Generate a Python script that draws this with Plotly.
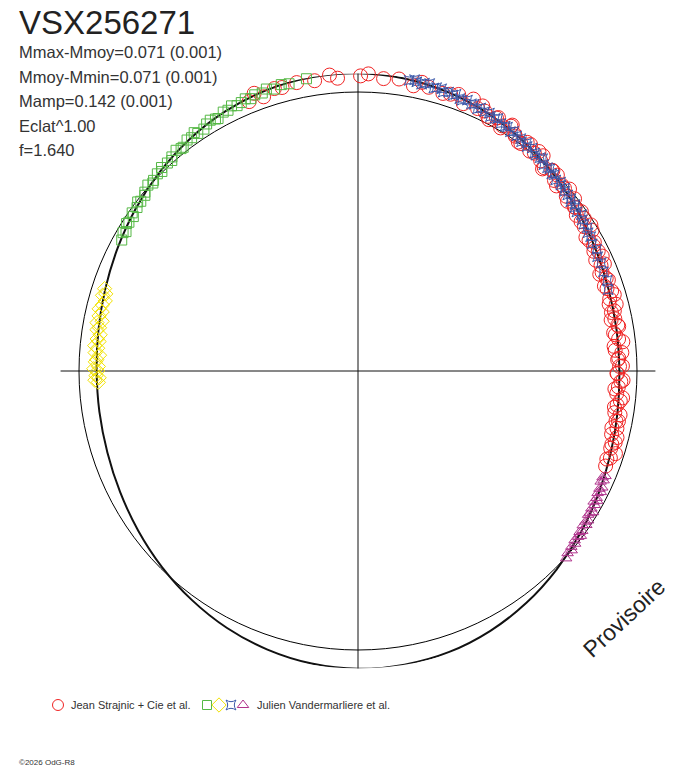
import numpy as np
import plotly.graph_objects as go

# phase angle (deg, 0 = top, clockwise) and magnitude offset from the mean (mag)
fit_ang = [0, 9, 18, 27, 36, 45, 54, 63, 72, 81, 90, 99, 108, 117, 126, 135, 144, 153, 162, 171,
           180, 189, 198, 207, 216, 225, 234, 243, 252, 261, 270, 279, 288, 297, 306, 315, 324, 333,
           342, 351, 360]
fit_dm = [-0.071, -0.065, -0.053, -0.036, -0.015, 0.007, 0.029, 0.048, 0.062, 0.069, 0.071, 0.065,
          0.053, 0.036, 0.015, -0.007, -0.029, -0.048, -0.062, -0.069, -0.071, -0.065, -0.053,
          -0.036, -0.015, 0.007, 0.029, 0.048, 0.062, 0.069, 0.071, 0.065, 0.053, 0.036, 0.015,
          -0.007, -0.029, -0.048, -0.062, -0.069, -0.071]

strajnic_ang = [-22, -20.5, -19, -18, -16.5, -15, -13.5, -12, -10, -8.5, -7, -5.5, -4, -2.5, -1,
                0.5, 2, 3.5, 5, 6.5, 8, 9.5, 11, 12.5, 14, 15.5, 17, 18.5, 20, 21.5, 23, 24.5, 26,
                27.5, 29, 30.5, 32, 33.5, 35, 36.5, 38, 39.5, 41, 42.5, 44, 45.5, 47, 48.5, 50,
                51.5, 53, 54.5, 56, 57.5, 59, 60.5, 62, 63.5, 65, 66.5, 68, 69.5, 71, 72.5, 74,
                75.5, 77, 78.5, 80, 81.5, 83, 84.5, 86, 87.5, 89, 90.5, 92, 93.5, 95, 96.5, 98,
                99.5, 101, 102.5, 104, 105.5, 107, 109, 111,
                25.2, 27, 28.7, 30.4, 32.1, 33.8, 35.6, 37.3, 39, 40.7, 42.4, 44.2, 45.9, 47.6,
                49.3, 51, 52.8, 54.5, 56.2, 57.9, 59.6, 61.4, 63.1, 64.8, 66.5, 68.2, 70, 71.7,
                73.4, 75.1, 76.8, 78.6, 80.3, 82, 83.7, 85.4, 87.2, 88.9, 90.6, 92.3, 94, 95.8,
                97.5, 99.2, 100.9, 102.6, 104.4, 106.1, 107.8, 109.5]
strajnic_dm = [-0.044, -0.066, -0.042, -0.076, -0.059, -0.055, -0.085, -0.060, -0.072, -0.055,
               -0.081, -0.069, -0.055, -0.077, -0.085, -0.061, -0.069, -0.086, -0.055, -0.071,
               -0.060, -0.076, -0.044, -0.063, -0.051, -0.073, -0.043, -0.049, -0.058, -0.032,
               -0.062, -0.036, -0.039, -0.017, -0.041, -0.021, -0.037, -0.019, -0.002, -0.021,
               0.000, -0.021, 0.002, 0.013, 0.000, -0.002, 0.030, 0.013, 0.028, 0.009,
               0.028, 0.043, 0.024, 0.042, 0.023, 0.054, 0.049, 0.042, 0.067, 0.041,
               0.063, 0.056, 0.074, 0.052, 0.069, 0.049, 0.076, 0.068, 0.061, 0.083,
               0.066, 0.088, 0.058, 0.077, 0.070, 0.081, 0.055, 0.073, 0.078, 0.060,
               0.081, 0.053, 0.065, 0.055, 0.071, 0.048, 0.059, 0.048, 0.055,
               -0.053, -0.026, -0.036, -0.011, -0.043, -0.014, -0.003, -0.022, -0.005, -0.019,
               0.021, -0.002, 0.021, 0.012, 0.000, 0.037, 0.030, 0.018, 0.042, 0.016,
               0.059, 0.039, 0.058, 0.036, 0.056, 0.075, 0.050, 0.067, 0.046, 0.077,
               0.063, 0.084, 0.058, 0.077, 0.050, 0.085, 0.072, 0.058, 0.079, 0.064,
               0.087, 0.052, 0.071, 0.076, 0.055, 0.076, 0.046, 0.059, 0.034, 0.060]

green_ang = [299, 300.5, 301, 302.5, 303, 304.5, 305, 306.5, 307.5, 308, 309.5, 310, 311.5, 312.5,
             313, 314.5, 315.5, 316, 317.5, 318.5, 319, 320.5, 321.5, 322, 323.5, 324.5, 325.5,
             326, 327.5, 328.5, 329.5, 330.5, 331, 332.5, 333.5, 334.5, 335.5, 336.5, 337.5,
             338.5, 339.5, 341, 342, 343.5, 345, 346.5, 348, 350, 352]
green_dm = [0.035, 0.025, 0.033, 0.018, 0.023, 0.025, 0.013, 0.016, 0.005, 0.013, 0.011, 0.003,
            -0.006, 0.003, -0.002, -0.009, -0.003, -0.015, -0.012, -0.008, -0.018, -0.027, -0.020,
            -0.019, -0.032, -0.029, -0.039, -0.029, -0.030, -0.041, -0.046, -0.040, -0.037,
            -0.049, -0.047, -0.056, -0.048, -0.052, -0.059, -0.052, -0.060, -0.057, -0.066,
            -0.057, -0.066, -0.062, -0.070, -0.067, -0.074]

yellow_ang = [267.5, 268, 268.5, 269, 270, 270.5, 271, 272, 272.5, 273.5, 274, 275, 275.5, 276.5,
              277, 278, 279, 279.5, 280.5, 281, 282, 283, 283.5, 284.5, 285.5, 286.5, 287, 288]
yellow_dm = [0.077, 0.063, 0.081, 0.068, 0.075, 0.059, 0.078, 0.065, 0.071, 0.081, 0.062, 0.071,
             0.058, 0.074, 0.065, 0.075, 0.059, 0.068, 0.054, 0.074, 0.057, 0.066, 0.051, 0.060,
             0.067, 0.050, 0.061, 0.050]

blue_ang = [10, 11, 11.5, 12.5, 13, 14, 15, 15.5, 16.5, 17, 18, 19, 19.5, 20.5, 21, 22, 23, 23.5,
            24.5, 25, 26, 27, 27.5, 28.5, 29, 30, 31, 31.5, 32.5, 33, 34, 35, 35.5, 36.5, 37, 38,
            39, 39.5, 40.5, 41, 42, 43, 43.5, 44.5, 45, 46, 47, 47.5, 48.5, 49, 50, 51, 51.5,
            52.5, 53, 54, 55, 56, 57, 58, 59, 60, 61.5, 63, 64.5, 66, 68, 70, 72]
blue_dm = [-0.061, -0.067, -0.061, -0.056, -0.062, -0.065, -0.053, -0.057, -0.058, -0.048,
           -0.054, -0.049, -0.055, -0.045, -0.042, -0.050, -0.043, -0.045, -0.035, -0.043,
           -0.036, -0.040, -0.030, -0.032, -0.037, -0.026, -0.026, -0.027, -0.018, -0.026,
           -0.018, -0.018, -0.010, -0.017, -0.008, -0.015, -0.006, -0.003, -0.006, -0.009,
           0.005, 0.004, 0.001, 0.010, 0.006, 0.016, 0.008, 0.015, 0.011, 0.020,
           0.020, 0.020, 0.028, 0.022, 0.029, 0.033, 0.025, 0.034, 0.038, 0.034,
           0.042, 0.041, 0.050, 0.044, 0.054, 0.051, 0.057, 0.055, 0.064]

purple_ang = [113, 113.5, 114, 114.5, 115.5, 116, 116.5, 117, 118, 118.5, 119, 119.5, 120.5, 121,
              121.5, 122, 123, 123.5, 124, 124.5, 125.5, 126, 126.5, 127, 128, 128.5, 129.5, 130,
              131, 132]
purple_dm = [0.040, 0.049, 0.040, 0.049, 0.033, 0.041, 0.030, 0.040, 0.034, 0.027, 0.038, 0.027,
             0.032, 0.019, 0.027, 0.030, 0.018, 0.024, 0.014, 0.025, 0.014, 0.020, 0.007, 0.013,
             0.016, 0.006, 0.010, 0.000, 0.005, -0.004]

ECLAT_POWER = 1.00
R_MAX = 1.066
FONT = "Liberation Sans, Arial, sans-serif"
W, H = 688, 768
CX, CY, RPX = 358, 371, 279


def radius(dm):
    # brightness relative to the mean, raised to the "Eclat" power
    return (10 ** (-0.4 * np.asarray(dm))) ** ECLAT_POWER


fig = go.Figure()

fig.add_trace(go.Scatterpolar(
    r=radius(fit_dm), theta=fit_ang, mode="lines",
    line=dict(color="#111111", width=2, shape="spline"),
))

series = [
    (strajnic_ang, strajnic_dm, "circle-open", 14, "#f02424"),
    (green_ang, green_dm, "square-open", 10, "#55b845"),
    (yellow_ang, yellow_dm, "diamond-open", 11, "#f2e200"),
    (blue_ang, blue_dm, "star-square-open", 9, "#3a58aa"),
    (purple_ang, purple_dm, "triangle-up-open", 10, "#b0338c"),
]
for ang, dm, sym, size, col in series:
    fig.add_trace(go.Scatterpolar(
        r=radius(dm), theta=ang, mode="markers",
        marker=dict(symbol=sym, size=size, color=col, line=dict(width=1, color=col)),
    ))

# legend swatches on a pixel overlay
legend_items = [
    (58, "circle-open", 11, "#f02424"),
    (207, "square-open", 9, "#55b845"),
    (219, "diamond-open", 11, "#f2e200"),
    (231, "star-square-open", 9, "#3a58aa"),
    (243, "triangle-up-open", 10, "#b0338c"),
]
for lx, sym, size, col in legend_items:
    fig.add_trace(go.Scatter(
        x=[lx], y=[705], mode="markers", xaxis="x", yaxis="y", cliponaxis=False,
        marker=dict(symbol=sym, size=size, color=col, line=dict(width=1, color=col)),
    ))

half = R_MAX * RPX
fig.update_layout(
    width=W, height=H,
    margin=dict(l=0, r=0, t=0, b=0),
    paper_bgcolor="white", plot_bgcolor="rgba(0,0,0,0)",
    showlegend=False,
    polar=dict(
        domain=dict(x=[(CX - half) / W, (CX + half) / W],
                    y=[(H - CY - half) / H, (H - CY + half) / H]),
        bgcolor="white",
        radialaxis=dict(range=[0, R_MAX], tickvals=[1.0], showticklabels=False, ticks="",
                        showline=False, showgrid=True, gridcolor="#000000", gridwidth=1),
        angularaxis=dict(rotation=90, direction="clockwise", tickvals=[0, 90, 180, 270],
                         showticklabels=False, ticks="", showline=False,
                         showgrid=True, gridcolor="#111111", gridwidth=1.2),
    ),
    xaxis=dict(range=[0, W], domain=[0, 1], visible=False, fixedrange=True),
    yaxis=dict(range=[H, 0], domain=[0, 1], visible=False, fixedrange=True),
)

stats = ["Mmax-Mmoy=0.071 (0.001)", "Mmoy-Mmin=0.071 (0.001)", "Mamp=0.142 (0.001)",
         "Eclat^1.00", "f=1.640"]
stat_y = [52, 76.5, 101, 125.5, 150]

ann = [dict(x=17, y=22, text="VSX256271", font=dict(size=33, color="#222222"))]
for txt, yy in zip(stats, stat_y):
    ann.append(dict(x=17, y=yy, text=txt, font=dict(size=16.5, color="#333333")))
ann += [
    dict(x=69, y=705, text="Jean Strajnic + Cie et al.", font=dict(size=11, color="#333333")),
    dict(x=255, y=705, text="Julien Vandermarliere et al.", font=dict(size=11, color="#333333")),
    dict(x=17, y=762, text="©2026 OdG-R8", font=dict(size=8, color="#333333")),
]
for a in ann:
    a.update(xref="x", yref="y", xanchor="left", yanchor="middle", showarrow=False)
    a["font"]["family"] = FONT
ann.append(dict(x=624, y=618, xref="x", yref="y", text="Provisoire", textangle=-43,
                showarrow=False, font=dict(size=23, color="#222222", family=FONT)))
fig.update_layout(annotations=ann)

# the page body has a default margin; remove it so the figure sits at the window corner
fig.write_html("out.html", config={"displayModeBar": False},
               post_script="document.body.style.margin='0';")
